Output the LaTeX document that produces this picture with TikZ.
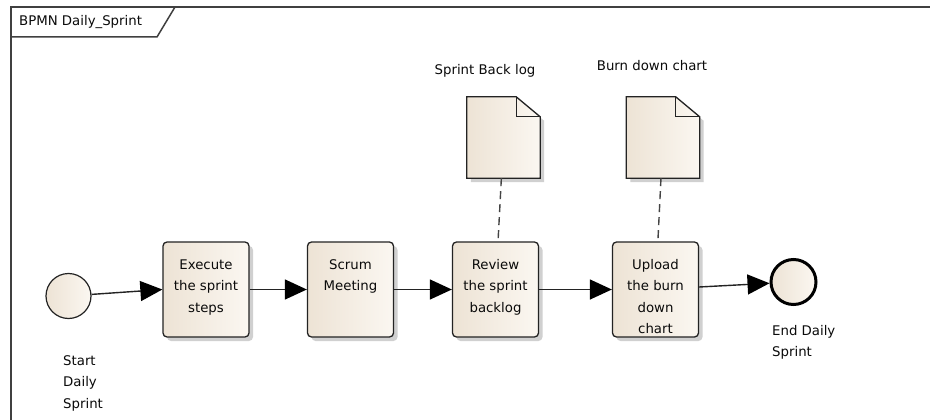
\documentclass[tikz,border=0pt]{standalone}
\usepackage{fontspec}
\setmainfont{DejaVu Sans}
\usetikzlibrary{arrows.meta,shadows}
\definecolor{bgA}{RGB}{237,227,213}
\definecolor{bgB}{RGB}{251,247,241}
\definecolor{edge}{RGB}{35,35,35}
\definecolor{txt}{RGB}{10,10,10}
\newcommand{\lbl}{\fontsize{13.3}{21.5}\selectfont}
\newcommand{\boxtext}[1]{\parbox[c][95pt][t]{86pt}{\centering\lbl\rule{0pt}{27pt}#1}}
\tikzset{
  task/.style={rectangle, rounded corners=4pt, draw=edge, line width=1.3pt,
    left color=bgA, right color=bgB, minimum width=86pt, minimum height=95pt,
    inner sep=0pt, text=txt,
    drop shadow={shadow xshift=4pt, shadow yshift=-4pt, fill=black!30, opacity=0.6}},
  startev/.style={circle, draw=edge, line width=1.2pt, left color=bgA, right color=bgB,
    minimum size=45pt, inner sep=0pt},
  endev/.style={circle, draw=black, line width=3pt, left color=bgA, right color=bgB,
    minimum size=45pt, inner sep=0pt},
  docnode/.style={rectangle, minimum width=73pt, minimum height=81pt, inner sep=0pt},
  docfill/.style={draw=edge, line width=1.3pt, left color=bgA, right color=bgB},
  docshadow/.style={fill=black!30, opacity=0.6},
  flow/.style={draw=edge, line width=1.4pt, -{Triangle[length=22pt,width=20pt,color=black]}},
  assoc/.style={draw=edge!85, line width=1.4pt, dash pattern=on 8pt off 5pt},
  plain/.style={text=txt, font=\lbl, inner sep=0pt},
  frame/.style={draw=black!75, line width=1.5pt}
}
\begin{document}
\begin{tikzpicture}[x=1pt,y=-1pt]
\useasboundingbox (0,0) rectangle (930,420);
\fill[white] (0,0) rectangle (930,420);
% frame
\draw[frame] (11,420) -- (11,7) -- (930,7);
\draw[frame] (11,37) -- (157,37) -- (175,7);
\node[plain, anchor=west] (title) at (19,22) {BPMN Daily\_Sprint};
% events
\node[startev] (start) at (68.5,296) {};
\node[endev] (end) at (793.5,282) {};
\node[plain, anchor=north west, align=left] (startlbl) at (63,355) {Start\\Daily\\Sprint};
\node[plain, anchor=north west, align=left] (endlbl) at (772,325) {End Daily\\Sprint};
% tasks
\node[task] (exec) at (206,289.5) {\boxtext{Execute\\the sprint\\steps}};
\node[task] (scrum) at (350.5,289.5) {\boxtext{Scrum\\Meeting}};
\node[task] (review) at (495.5,289.5) {\boxtext{Review\\the sprint\\backlog}};
\node[task] (upload) at (655.5,289.5) {\boxtext{Upload\\the burn\\down\\chart}};
% documents
\node[docnode] (doc1) at (503.5,137.5) {};
\node[docnode] (doc2) at (663,137.5) {};
\foreach \d in {doc1,doc2}{
  \fill[docshadow] ([shift={(4pt,-4pt)}]\d.north west) -- ([shift={(-20pt,-4pt)}]\d.north east)
     -- ([shift={(4pt,-24pt)}]\d.north east) -- ([shift={(4pt,-4pt)}]\d.south east)
     -- ([shift={(4pt,-4pt)}]\d.south west) -- cycle;
  \draw[docfill] (\d.north west) -- ([xshift=-24pt]\d.north east) -- ([yshift=-20pt]\d.north east)
     -- (\d.south east) -- (\d.south west) -- cycle;
  \draw[draw=edge, line width=1.3pt] ([xshift=-24pt]\d.north east) |- ([yshift=-20pt]\d.north east);
}
\node[plain] (doc1lbl) at (485,71) {Sprint Back log};
\node[plain] (doc2lbl) at (652,66) {Burn down chart};
% connectors
\draw[flow] (start) -- (exec.west);
\draw[flow] (exec) -- (scrum);
\draw[flow] (scrum) -- (review);
\draw[flow] (review) -- (upload);
\draw[flow] ([yshift=2.5pt]upload.east) -- (end);
\draw[assoc] (doc1) -- (review);
\draw[assoc] (doc2) -- (upload);
\end{tikzpicture}
\end{document}
